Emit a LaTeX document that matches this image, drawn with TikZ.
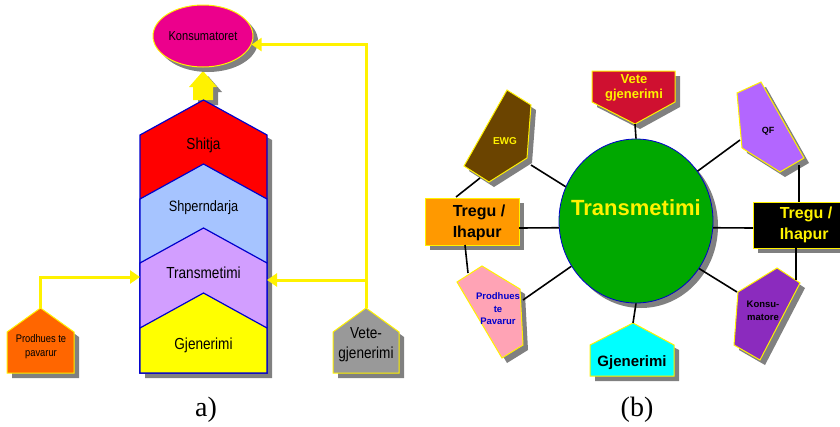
\documentclass[tikz,border=0pt]{standalone}
\usepackage{fontspec}
\setmainfont{Liberation Serif}
\setsansfont{Liberation Sans}
\newfontfamily\lblfont[FakeStretch=0.85]{Liberation Sans}
\usepackage{tikz}
\usetikzlibrary{shapes,arrows.meta,shadows}

\definecolor{edgeblue}{HTML}{0000CC}
\definecolor{layred}{HTML}{FF0000}
\definecolor{layblue}{HTML}{A6C4FF}
\definecolor{layviolet}{HTML}{D29EFF}
\definecolor{layyellow}{HTML}{FFFF00}
\definecolor{prodorange}{HTML}{FF6600}
\definecolor{vetegray}{HTML}{999999}
\definecolor{transgreen}{HTML}{00A800}
\definecolor{vetered}{HTML}{CF1030}
\definecolor{ewgbrown}{HTML}{6B4400}
\definecolor{treguorange}{HTML}{FF9900}
\definecolor{prodpink}{HTML}{FFA3B5}
\definecolor{gjencyan}{HTML}{00FFFF}
\definecolor{qfviolet}{HTML}{B366FF}
\definecolor{konspurple}{HTML}{8B2BBE}

\begin{document}
\begin{tikzpicture}[x=1pt,y=-1pt,
  shad/.style={drop shadow={shadow xshift=5pt,shadow yshift=-5pt,fill=black!50,opacity=1}},
  piece/.style={draw=yellow,line width=1pt,shad},
  layer/.style={draw=edgeblue,line width=1.2pt},
  feed/.style={draw=yellow,line width=3pt,-{Triangle[width=13pt,length=10pt]}},
  link/.style={draw=black,line width=1.6pt},
  lbl/.style 2 args={inner sep=0pt,align=center,font=\lblfont\fontsize{#1}{#2}\selectfont},
  bold/.style 2 args={inner sep=0pt,align=center,font=\sffamily\bfseries\fontsize{#1}{#2}\selectfont}
  ]
  \useasboundingbox (0,0) rectangle (840,426);

  %% (a) the chain
  \fill[yellow,shad] (193,100) -- (193,87) -- (189,87) -- (203,71) -- (217,87)
    -- (213,87) -- (213,100) -- cycle;
  \path[shad] (140,135) -- (203.5,100) -- (267,135) -- (267,373) -- (140,373) -- cycle;
  \foreach \py/\col in {100/layred,164/layblue,228/layviolet,293/layyellow}
    \filldraw[layer,fill=\col] (140,\py+35) -- (203.5,\py) -- (267,\py+35)
      -- (267,373) -- (140,373) -- cycle;
  \node[lbl={16}{20}] (shitja) at (203.5,145) {Shitja};
  \node[lbl={15}{18}] (shperndarja) at (203.5,208) {Shperndarja};
  \node[lbl={16}{20}] (transA) at (203.5,273) {Transmetimi};
  \node[lbl={16}{20}] (gjenA) at (203.5,345) {Gjenerimi};
  \coordinate (stackW) at (140,277);
  \coordinate (stackE) at (267,280);

  \node[ellipse,draw=yellow,line width=1pt,fill=magenta,shad,minimum width=100pt,
    minimum height=62pt,lbl={13}{15}] (kons) at (203,36) {Konsumatoret};

  \filldraw[piece,fill=prodorange] (7,332) -- (40.5,308) -- (74,332) -- (74,373)
    -- (7,373) -- cycle;
  \coordinate (prodtop) at (40.5,308);
  \node[lbl={11}{14}] (prod) at (41,347) {Prodhues te\\pavarur};

  \filldraw[piece,fill=vetegray] (333,332) -- (366,308) -- (399,332) -- (399,373)
    -- (333,373) -- cycle;
  \coordinate (vetetop) at (366,308);
  \coordinate (vetebranch) at (366,280);
  \node[lbl={16}{20}] (veteA) at (366,345) {Vete-\\gjenerimi};

  \draw[feed] (prodtop) |- (stackW);
  \draw[feed] (vetetop) |- (kons.-10);
  \draw[feed] (vetebranch) -- (stackE);

  \node[font=\fontsize{28}{30}\selectfont,inner sep=0pt] (capA) at (206,410) {a)};

  %% (b) the market
  \node[ellipse,draw=edgeblue,line width=0.8pt,fill=transgreen,shad,minimum width=154pt,
    minimum height=164pt,inner sep=0pt] (trans) at (636,221) {};
  \node[bold={22}{26},text=yellow] (transB) at (636,208) {Transmetimi};

  \filldraw[piece,fill=vetered] (592,71) -- (675,71) -- (675,102) -- (635,124)
    -- (592,102) -- cycle;
  \coordinate (veteB) at (635,124);
  \node[bold={13}{15},text=yellow] (veteTxt) at (634,88) {Vete\\gjenerimi};

  \filldraw[piece,fill=ewgbrown] (507,90) -- (531,105) -- (527,158) -- (489,182)
    -- (464,166) -- cycle;
  \coordinate (ewgR) at (531,165);
  \coordinate (ewgL) at (480,178);
  \node[bold={10}{12},text=yellow] (ewg) at (505,141) {EWG};

  \filldraw[piece,fill=treguorange] (425,198) rectangle (519,245);
  \coordinate (treguLE) at (519,228);
  \coordinate (treguLT) at (456,197);
  \coordinate (treguLB) at (465,245);
  \node[bold={16}{21},align=left] (treguL) at (479,223) {Tregu /\\Ihapur};

  \filldraw[piece,fill=prodpink] (482,266) -- (520,289) -- (523,345) -- (502,358)
    -- (457,282) -- cycle;
  \coordinate (prodT) at (468,273);
  \coordinate (prodR) at (523,300);
  \node[bold={9.5}{12.5},text=edgeblue] (prodB) at (498,309) {Prodhues\\te\\Pavarur};

  \filldraw[piece,fill=gjencyan] (590,345) -- (633,323) -- (674,345) -- (674,376)
    -- (590,376) -- cycle;
  \coordinate (gjenT) at (633,323);
  \node[bold={15}{18}] (gjenB) at (632,363) {Gjenerimi};

  \filldraw[piece,fill=qfviolet] (761,82) -- (804,158) -- (780,172) -- (742,148)
    -- (737,93) -- cycle;
  \coordinate (qfL) at (740,140);
  \coordinate (qfB) at (799,165);
  \node[bold={9}{11}] (qf) at (768,131) {QF};

  \filldraw[piece,fill=black] (753,202) rectangle (850,248);
  \coordinate (treguRW) at (753,228);
  \coordinate (treguRT) at (799,202);
  \coordinate (treguRB) at (796,248);
  \node[bold={16}{21},align=left,text=yellow] (treguR) at (806,225) {Tregu /\\Ihapur};

  \filldraw[piece,fill=konspurple] (777,268) -- (800,283) -- (760,360) -- (734,345)
    -- (738,292) -- cycle;
  \coordinate (konsT) at (796,280);
  \coordinate (konsL) at (737,292);
  \node[bold={9.5}{13}] (konsB) at (763,311) {Konsu-\\matore};

  \draw[link] (trans.north) -- (veteB);
  \draw[link] (trans.154) -- (ewgR);
  \draw[link] (ewgL) -- (treguLT);
  \draw[link] (treguLE) -- (trans.185);
  \draw[link] (treguLB) -- (prodT);
  \draw[link] (prodR) -- (trans.215);
  \draw[link] (trans.south) -- (gjenT);
  \draw[link] (trans.39) -- (qfL);
  \draw[link] (qfB) -- (treguRT);
  \draw[link] (trans.-5) -- (treguRW);
  \draw[link] (trans.-37) -- (konsL);
  \draw[link] (treguRB) -- (konsT);

  \node[font=\fontsize{28}{30}\selectfont,inner sep=0pt] (capB) at (637,410) {(b)};
\end{tikzpicture}
\end{document}
